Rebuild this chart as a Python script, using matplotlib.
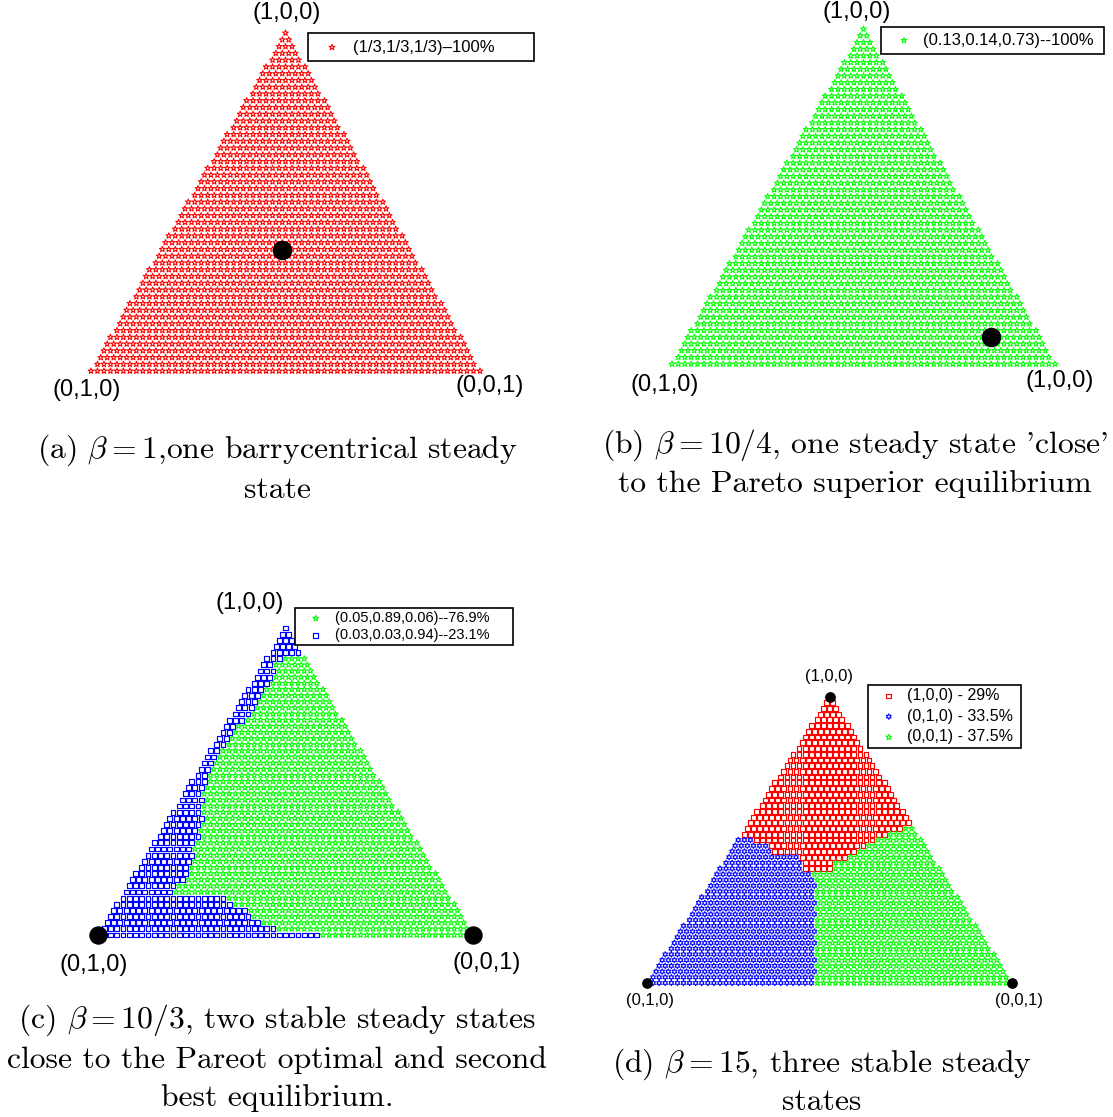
import numpy as np
import matplotlib.pyplot as plt
from matplotlib.path import Path

plt.rcParams['mathtext.fontset'] = 'cm'
plt.rcParams['font.family'] = ['Liberation Sans', 'DejaVu Sans']

W, H = 1113, 1117
SQ = np.sqrt(3) / 2

# grid of initial conditions: 50 rows, 60 columns on the bottom edge
N_ROWS, N_COLS = 50, 60

# corner labels (top, bottom-left, bottom-right)
CORNERS_A = ['(1,0,0)', '(0,1,0)', '(0,0,1)']
CORNERS_B = ['(1,0,0)', '(0,1,0)', '(1,0,0)']
CORNERS_C = ['(1,0,0)', '(0,1,0)', '(0,0,1)']
CORNERS_D = ['(1,0,0)', '(0,1,0)', '(0,0,1)']

# legend texts
LEG_A = ['(1/3,1/3,1/3)\u2013100%']
LEG_B = ['(0.13,0.14,0.73)--100%']
LEG_C = ['(0.05,0.89,0.06)--76.9%', '(0.03,0.03,0.94)--23.1%']
LEG_D = ['(1,0,0) - 29%', '(0,1,0) - 33.5%', '(0,0,1) - 37.5%']

# steady states as drawn (x1, x2, x3): x1 top, x2 bottom-left, x3 bottom-right
EQ_A = [(0.358, 0.331, 0.311)]
EQ_B = [(0.081, 0.126, 0.793)]
EQ_C = [(0.0, 1.0, 0.0), (0.0, 0.0, 1.0)]
EQ_D = [(1.0, 0.0, 0.0), (0.0, 1.0, 0.0), (0.0, 0.0, 1.0)]

# basin boundaries (x along base 0..1, y up to sqrt(3)/2)
BLUE_C_X = [-0.1, -0.1, 0.7, 0.7, 0.478, 0.468, 0.436, 0.409, 0.355, 0.325, 0.294,
            0.28, 0.28, 0.27, 0.245, 0.245, 0.204, 0.195, 0.337, 0.369, 0.396,
            0.431, 0.485, 0.595, 0.595]
BLUE_C_Y = [-0.05, 0.95, 0.95, 0.787, 0.779, 0.730, 0.678, 0.626, 0.570, 0.518, 0.466,
            0.414, 0.329, 0.278, 0.207, 0.169, 0.141, 0.118, 0.104, 0.085, 0.068,
            0.033, 0.016, 0.003, -0.05]

RED_D_X = [-0.1, -0.1, 1.1, 1.1, 0.70, 0.66, 0.625, 0.600, 0.575, 0.545, 0.515,
           0.51, 0.42, 0.418, 0.36, 0.335, 0.30, 0.27]
RED_D_Y = [0.455, 0.95, 0.95, 0.475, 0.470, 0.452, 0.433, 0.418, 0.398, 0.383, 0.363,
           0.335, 0.335, 0.383, 0.390, 0.410, 0.430, 0.443]

BLUE_D_X = [-0.1, -0.1, 0.27, 0.30, 0.335, 0.36, 0.418, 0.42, 0.452, 0.462, 0.462]
BLUE_D_Y = [-0.05, 0.455, 0.443, 0.430, 0.410, 0.390, 0.383, 0.335, 0.33, 0.30, -0.05]

# captions
CAP_A = ['(a) $\\beta = 1$,one barrycentrical steady', 'state']
CAP_B = ["(b) $\\beta = 10/4$, one steady state 'close'", 'to the Pareto superior equilibrium']
CAP_C = ['(c) $\\beta = 10/3$, two stable steady states',
         'close to the Pareot optimal and second', 'best equilibrium.']
CAP_D = ['(d) $\\beta = 15$, three stable steady', 'states']

RED, GREEN, BLUE = '#ff0000', '#00ff00', '#0000ff'


def simplex_grid():
    xs, ys = [], []
    for k in range(N_ROWS + 1):
        y = k / N_ROWS
        n = int(np.floor((1 - y) * N_COLS + 1e-9)) + 1
        xs.extend(0.5 + (np.arange(n) - (n - 1) / 2) / N_COLS)
        ys.extend([y * SQ] * n)
    return np.array(xs), np.array(ys)


def to_xy(p):
    a, b, c = p
    return c + a / 2, a * SQ


def inside(xs, ys, px, py):
    path = Path(np.column_stack([px, np.array(py)]))
    return path.contains_points(np.column_stack([xs, ys]))


def fx(x):
    return x / W


def fy(y):
    return 1 - y / H


def tri_axes(apex, bl, br):
    ax = fig.add_axes([fx(bl[0]), fy(bl[1]), (br[0] - bl[0]) / W, (bl[1] - apex[1]) / H])
    ax.set_xlim(0, 1)
    ax.set_ylim(0, SQ)
    ax.axis('off')
    return ax


def star(ax, x, y, color, marker='*', s=19, lw=0.75):
    return ax.scatter(x, y, s=s, marker=marker, facecolors='none', edgecolors=color,
                      linewidths=lw, clip_on=False, zorder=2)


def dots(ax, eqs, s):
    for p in eqs:
        x, y = to_xy(p)
        ax.scatter([x], [y], s=s, color='black', clip_on=False, zorder=4)


def legend(ax, handles, labels, x0, y0, size, bp, ls, hl, htp):
    lg = ax.legend(handles, labels, loc='upper left', bbox_to_anchor=(fx(x0), fy(y0)),
                   bbox_transform=fig.transFigure, fontsize=size, frameon=True,
                   fancybox=False, framealpha=1, edgecolor='black', borderaxespad=0,
                   scatterpoints=1, handletextpad=htp, borderpad=bp,
                   labelspacing=ls, handlelength=hl)
    lg.get_frame().set_linewidth(1.2)


def corner_text(items, size):
    for (x, y), s in items:
        fig.text(fx(x), fy(y), s, ha='center', va='center', fontsize=size)


def caption(lines, x, ys, size=22.8):
    for s, y in zip(lines, ys):
        fig.text(fx(x), fy(y), s, ha='center', va='center', fontsize=size,
                 family='cmr10')


fig = plt.figure(figsize=(W / 100, H / 100), dpi=100)
gx, gy = simplex_grid()

# (a)
ax = tri_axes((286, 33), (91, 371), (480, 371))
h = star(ax, gx, gy, RED)
dots(ax, EQ_A, 170)
legend(ax, [h], [LEG_A[0] + ' ' * 7], 308, 33, 12, 0.4, 0.3, 2.08, 0.22)
corner_text([((287, 13), CORNERS_A[0]), ((87, 390), CORNERS_A[1]), ((490, 386), CORNERS_A[2])], 17)
caption(CAP_A, 277, [450, 490])

# (b)
ax = tri_axes((863, 29), (672, 364), (1055, 364))
h = star(ax, gx, gy, GREEN)
dots(ax, EQ_B, 170)
legend(ax, [h], [LEG_B[0] + ' '], 881, 27, 12, 0.35, 0.3, 2.06, 0.1)
corner_text([((857, 12), CORNERS_B[0]), ((665, 385), CORNERS_B[1]), ((1060, 381), CORNERS_B[2])], 17)
caption(CAP_B, 855, [445, 484])

# (c)
ax = tri_axes((284, 628), (98, 935), (473, 935))
blue = inside(gx, gy, BLUE_C_X, BLUE_C_Y)
hg = star(ax, gx[~blue], gy[~blue], GREEN)
hb = star(ax, gx[blue], gy[blue], BLUE, marker='s', s=12, lw=0.85)
dots(ax, EQ_C, 150)
legend(ax, [hg, hb], [t + ' ' * 5 for t in LEG_C], 295, 608, 10.5, 0.22, 0.2, 2.4, 0.1)
corner_text([((250, 603), CORNERS_C[0]), ((94, 965), CORNERS_C[1]), ((487, 963), CORNERS_C[2])], 17)
caption(CAP_C, 277, [1020, 1060, 1098])

# (d)
ax = tri_axes((829, 697), (647, 983), (1012, 983))
red = inside(gx, gy, RED_D_X, RED_D_Y)
blue = inside(gx, gy, BLUE_D_X, BLUE_D_Y) & ~red
green = ~red & ~blue
hr = star(ax, gx[red], gy[red], RED, marker='s', s=12, lw=0.85)
hb = star(ax, gx[blue], gy[blue], BLUE, marker=(6, 1, 0), s=16)
hg = star(ax, gx[green], gy[green], GREEN)
dots(ax, EQ_D, 45)
legend(ax, [hr, hb, hg], [t + ' ' for t in LEG_D], 868, 685, 11.5, 0.2, 0.35, 2.2, 0.03)
corner_text([((829, 677), CORNERS_D[0]), ((650, 1000), CORNERS_D[1]), ((1019, 1000), CORNERS_D[2])], 12)
caption(CAP_D, 822, [1064, 1102])

fig.savefig('out.png', dpi=100)
